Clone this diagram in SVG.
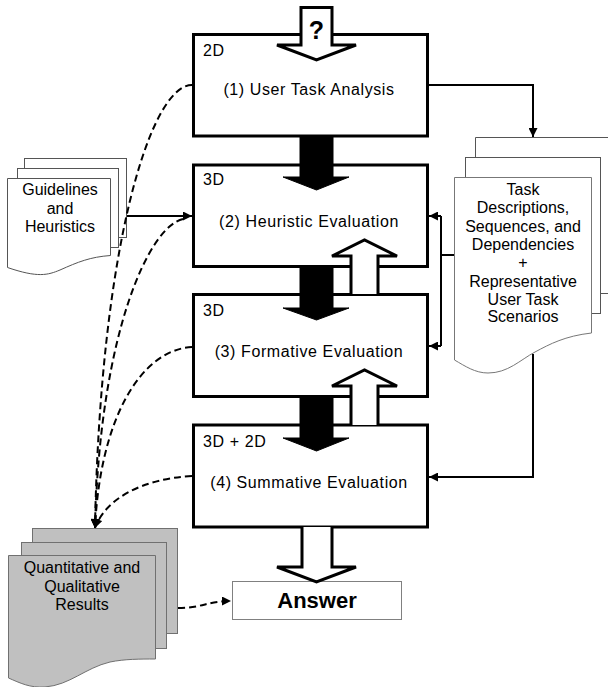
<svg xmlns="http://www.w3.org/2000/svg" width="608" height="687" viewBox="0 0 608 687">
<style>
text{font-family:"Liberation Sans",Arial,sans-serif;fill:#000}
.box{fill:#fff;stroke:#000;stroke-width:3}
.lbl{font-size:16px;letter-spacing:0.6px}
.main{font-size:16px;letter-spacing:0.6px;text-anchor:middle}
.doc{font-size:16px;text-anchor:middle}
.page{fill:#fff;stroke:#555;stroke-width:1}
.gpage{fill:#c0c0c0;stroke:#707070;stroke-width:1}
.line{fill:none;stroke:#000;stroke-width:2}
.dash{fill:none;stroke:#000;stroke-width:2;stroke-dasharray:7,4}
.black{fill:#000;stroke:#000;stroke-width:1}
.hollow{fill:#fff;stroke:#000;stroke-width:3;stroke-linejoin:miter}
</style>
<defs>
<marker id="ah" viewBox="0 0 10 10" refX="10" refY="5" markerWidth="10" markerHeight="9" markerUnits="userSpaceOnUse" orient="auto">
<path d="M0,0 L10,5 L0,10 Z" fill="#000"/>
</marker>
</defs>

<g id="guidelines">
<rect class="page" x="24.5" y="158.5" width="102" height="79"/>
<rect class="page" x="17.5" y="168.5" width="101" height="79"/>
<path class="page" d="M7.5,178.5 H110.5 V255.5 C90,257 78,262 60,270 C48,275 38,278 7.5,267.5 Z"/>
<text class="doc" x="60" y="195">Guidelines</text>
<text class="doc" x="60" y="214">and</text>
<text class="doc" x="60" y="232">Heuristics</text>
</g>

<g id="taskdocs">
<path class="page" d="M475.5,293.5 V137.5 H620 M600,293.5 H620"/>
<rect class="page" x="465.5" y="157.5" width="135" height="156"/>
<path class="page" style="stroke:#777" d="M454.5,177.5 H591.5 V333 C565,336 550,344 535,352 C520,360 508,373 488,373 C475,373 465,366 454.5,360 Z"/>
<text class="doc" x="523" y="195">Task</text>
<text class="doc" x="523" y="213">Descriptions,</text>
<text class="doc" x="523" y="232">Sequences, and</text>
<text class="doc" x="523" y="250">Dependencies</text>
<text class="doc" x="523" y="268">+</text>
<text class="doc" x="523" y="287">Representative</text>
<text class="doc" x="523" y="305">User Task</text>
<text class="doc" x="523" y="322">Scenarios</text>
</g>

<g id="results">
<rect class="gpage" x="32.5" y="528.5" width="145" height="105"/>
<rect class="gpage" x="21.5" y="542.5" width="145" height="106"/>
<path class="gpage" d="M8.5,555.5 H155.5 V659 C140,659 125,659 110,662 C85,668 70,685 45,687 C30,688 20,683 8.5,678 Z"/>
<text class="doc" x="82" y="573">Quantitative and</text>
<text class="doc" x="82" y="592">Qualitative</text>
<text class="doc" x="82" y="610">Results</text>
</g>

<g id="box1">
<rect class="box" x="193.5" y="34.5" width="234" height="101.5"/>
<text class="lbl" x="203" y="56">2D</text>
<text class="main" x="309" y="95">(1) User Task Analysis</text>
</g>
<g id="box2">
<rect class="box" x="193.5" y="165" width="234" height="101.5"/>
<text class="lbl" x="203" y="185">3D</text>
<text class="main" x="309" y="227">(2) Heuristic Evaluation</text>
</g>
<g id="box3">
<rect class="box" x="193.5" y="294.5" width="234" height="102"/>
<text class="lbl" x="203" y="316">3D</text>
<text class="main" x="309" y="357">(3) Formative Evaluation</text>
</g>
<g id="box4">
<rect class="box" x="193.5" y="425" width="234" height="102"/>
<text class="lbl" x="203" y="447">3D + 2D</text>
<text class="main" x="309" y="488">(4) Summative Evaluation</text>
</g>

<g id="answer">
<rect x="232.5" y="581.5" width="169" height="38" fill="#fff" stroke="#808080" stroke-width="1"/>
<text x="317" y="608" style="font-size:22px;font-weight:bold;text-anchor:middle">Answer</text>
</g>

<g id="connectors">
<path class="line" d="M429,85 H533 V137" marker-end="url(#ah)"/>
<path class="line" d="M127,216 H192" marker-end="url(#ah)"/>
<path class="line" d="M454,255 H441"/>
<path class="line" d="M441,216 V346"/>
<path class="line" d="M441,216 H429" marker-end="url(#ah)"/>
<path class="line" d="M441,346 H429" marker-end="url(#ah)"/>
<path class="line" d="M533,354 V477 H429" marker-end="url(#ah)"/>
<path class="dash" d="M192,85 C150,85 100,250 95,528" marker-end="url(#ah)"/>
<path class="dash" d="M183,219 C150,226 100,330 95,528" marker-end="url(#ah)"/>
<path class="dash" d="M192,347 C140,350 100,420 95,528" marker-end="url(#ah)"/>
<path class="dash" d="M192,476 C140,479 105,500 95,528" marker-end="url(#ah)"/>
<path class="dash" d="M178,608 C202,608 208,601 231,601" marker-end="url(#ah)"/>
<path class="black" d="M300,137 H333 V177 H349 L316.5,190 L283,177 H300 Z"/>
<path class="black" d="M300,267 H333 V308 H349 L316.5,320 L283,308 H300 Z"/>
<path class="black" d="M300,397 H333 V438 H349 L316.5,451 L283,438 H300 Z"/>
<path class="hollow" d="M351,294 V256 H332 L364.5,240 L397,256 H378 V294"/>
<path class="hollow" d="M351,425 V386 H332 L364.5,370 L397,386 H378 V425"/>
<path class="hollow" d="M301,7.5 H332 V45 H356 L316.5,60 L277,45 H301 Z"/>
<text x="316.5" y="38.5" style="font-size:25px;font-weight:bold;text-anchor:middle">?</text>
<path class="hollow" d="M302,527 V567 H277 L316.5,582 L356,567 H332 V527"/>
</g>
</svg>
